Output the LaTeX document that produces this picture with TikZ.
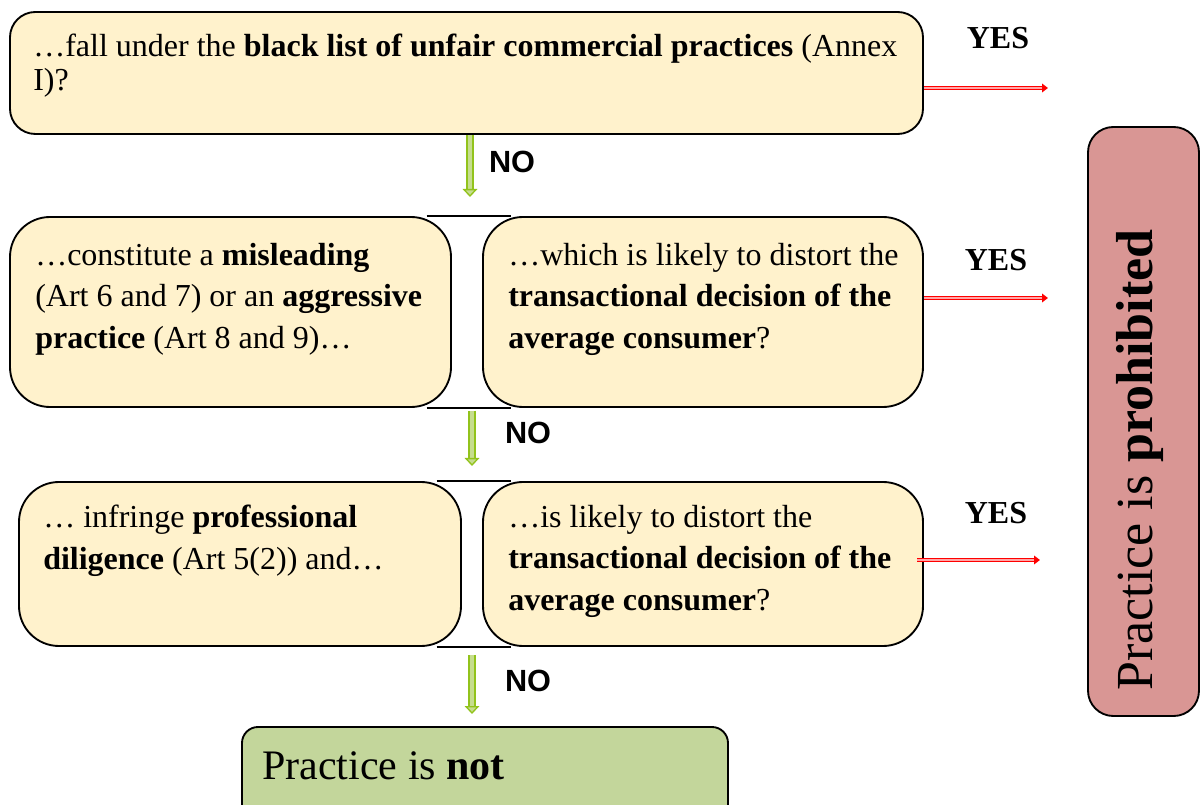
\documentclass[tikz,border=0pt]{standalone}
\usepackage{fontspec}
\setmainfont{Liberation Serif}
\newfontfamily\labelsans{Liberation Sans}
\usetikzlibrary{arrows.meta,fit}
\definecolor{qyellow}{HTML}{FFF2CC}
\definecolor{qpink}{HTML}{D99694}
\definecolor{qgreen}{HTML}{C3D69B}
\definecolor{nogreen}{HTML}{92C31C}
\definecolor{nofill}{HTML}{C6DD8F}
\begin{document}
\begin{tikzpicture}[x=0.75pt,y=-0.75pt,
  every node/.style={inner sep=0pt},
  qbox/.style={draw=black,line width=1.4pt,fill=qyellow,rounded corners=#1},
  qbox/.default=30pt,
  qtext/.style={anchor=north west,align=left,font=\fontsize{24}{31}\selectfont},
  yes/.style={font=\fontsize{24}{28}\selectfont\bfseries},
  no/.style={font=\labelsans\fontsize{23}{28}\selectfont\bfseries},
  yesarrow/.style={draw=red,double=red!35,double distance=1.5pt,line width=1pt,-{Triangle[length=4.5pt,width=6.5pt]}},
  noarrow/.style={draw=nogreen,double=nofill,double distance=3.5pt,line width=1pt,-{Triangle[length=6pt,width=11pt,fill=nofill]}},
  joint/.style={line width=1.4pt,shorten <=-19pt,shorten >=-22pt}]
  \useasboundingbox (0,0) rectangle (1200,805);
  \clip (0,0) rectangle (1200,805);
  % question boxes
  \node[qbox=19pt,fit={(10,12) (923,134)}] (q1) {};
  \node[qbox,fit={(10,217) (451,407)}] (q2a) {};
  \node[qbox,fit={(483,217) (923,407)}] (q2b) {};
  \node[qbox,fit={(19,482) (461,646)}] (q3a) {};
  \node[qbox,fit={(483,482) (923,646)}] (q3b) {};
  \draw[joint] (q2a.north east) -- (q2b.north west);
  \draw[joint] (q2a.south east) -- (q2b.south west);
  \draw[joint] (q3a.north east) -- (q3b.north west);
  \draw[joint] (q3a.south east) -- (q3b.south west);
  \node[qtext,font=\fontsize{24}{25.5}\selectfont] (t1) at (33,34)
    {…fall under the \textbf{black list of unfair commercial practices} (Annex\\I)?};
  \node[qtext] (t2a) at (35,243)
    {…constitute a \textbf{misleading}\\(Art 6 and 7) or an \textbf{aggressive}\\\textbf{practice} (Art 8 and 9)…};
  \node[qtext] (t2b) at (508,243)
    {…which is likely to distort the\\\textbf{transactional decision of the}\\\textbf{average consumer}?};
  \node[qtext] (t3a) at (43,505)
    {… infringe \textbf{professional}\\\textbf{diligence} (Art 5(2)) and…};
  \node[qtext] (t3b) at (508,505)
    {…is likely to distort the\\\textbf{transactional decision of the}\\\textbf{average consumer}?};
  % outcomes
  \node[draw=black,line width=1.4pt,fill=qpink,rounded corners=19pt,fit={(1088,127) (1199,716)}] (ban) {};
  \node[rotate=90,anchor=base,font=\fontsize{39}{40}\selectfont] (bantext) at (1152,460) {Practice is \textbf{prohibited}};
  \node[draw=black,line width=1.4pt,fill=qgreen,rounded corners=12pt,fit={(242,727) (728,840)}] (ok) {};
  \node[anchor=base west,font=\fontsize{31.5}{33}\selectfont] (oktext) at (262,779) {Practice is \textbf{not}};
  % yes arrows
  \coordinate (y1) at (1048,88);
  \coordinate (y2) at (1048,298);
  \coordinate (y3) at (1040,560);
  \draw[yesarrow] (q1.east |- y1) -- (y1);
  \draw[yesarrow] (q2b.east |- y2) -- (y2);
  \draw[yesarrow,shorten <=-5pt] (q3b.east |- y3) -- (y3);
  \node[yes] (yes1) at (998,38) {YES};
  \node[yes] (yes2) at (996,260) {YES};
  \node[yes] (yes3) at (996,513) {YES};
  % no arrows
  \coordinate (n1) at (470,197);
  \coordinate (n2) at (472,466);
  \coordinate (n3) at (472,714);
  \draw[noarrow] (q1.south -| n1) -- (n1);
  \draw[noarrow,shorten <=2pt] (q2a.south -| n2) -- (n2);
  \draw[noarrow,shorten <=6pt] (q3a.south -| n3) -- (n3);
  \node[no] (no1) at (512,162) {NO};
  \node[no] (no2) at (528,433) {NO};
  \node[no] (no3) at (528,681) {NO};
\end{tikzpicture}
\end{document}
